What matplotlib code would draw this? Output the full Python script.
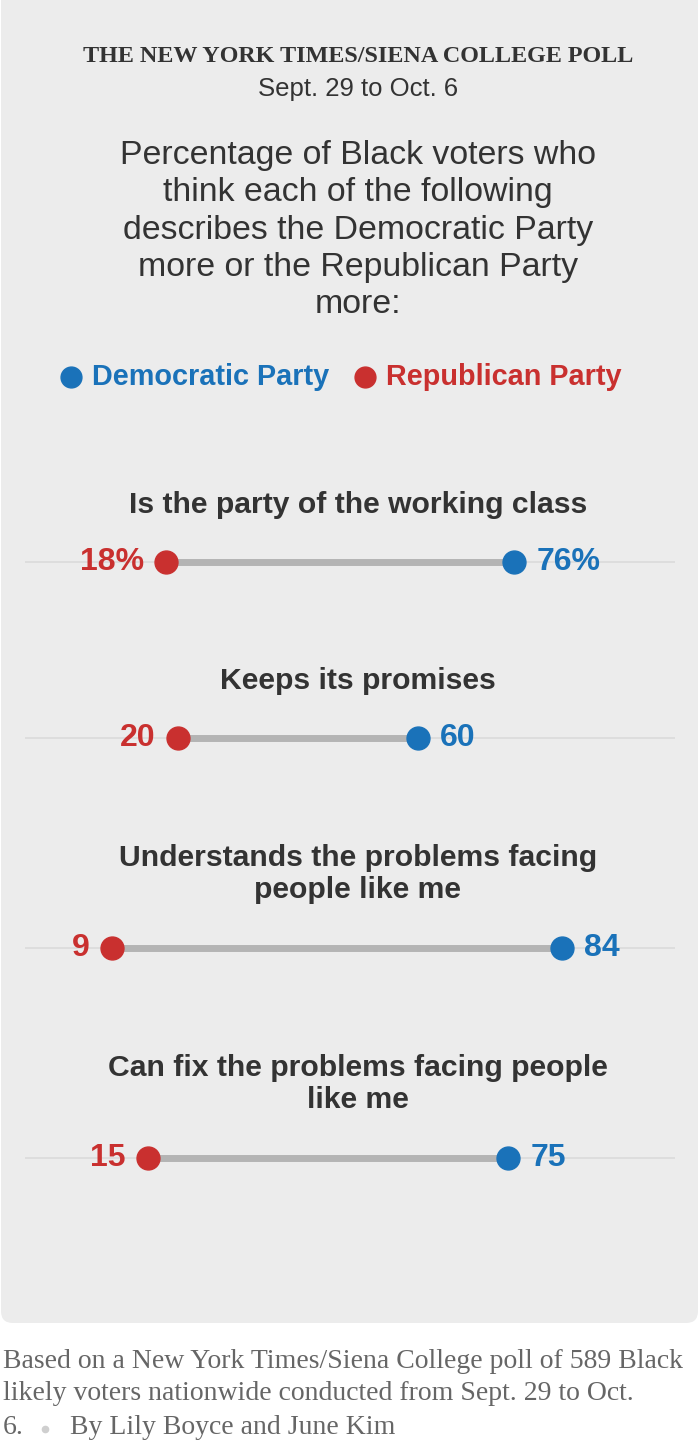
import matplotlib
matplotlib.use("Agg")
from matplotlib import pyplot as plt
from matplotlib.patches import FancyBboxPatch

questions = [
    "Is the party of the working class",
    "Keeps its promises",
    "Understands the problems facing\npeople like me",
    "Can fix the problems facing people\nlike me",
]
rep_values = [18, 20, 9, 15]
dem_values = [76, 60, 84, 75]
rep_labels = ["18%", "20", "9", "15"]
dem_labels = ["76%", "60", "84", "75"]

BLUE = "#1a72b9"
RED = "#c9302f"
DARK = "#333333"
SANS = "Liberation Sans"
SERIF = "Liberation Serif"

W, H = 699, 1453


def px(x):
    # pixel column -> percent scale (0% at 58px, 6px per point)
    return (x - 58) / 6


def main():
    fig = plt.figure(figsize=(W / 100, H / 100), dpi=100)
    fig.patch.set_facecolor("white")

    ax = fig.add_axes([0, 0, 1, 1])
    ax.set_xlim(px(0), px(W))
    ax.set_ylim(H, 0)
    ax.axis("off")
    ax.patch.set_alpha(0)

    # gray card
    card = FancyBboxPatch((1 / W, 1 - 1323 / H), 697 / W, 1350 / H,
                          boxstyle="round,pad=0,rounding_size=0.017",
                          transform=ax.transAxes, facecolor="#ececec",
                          edgecolor="none", mutation_aspect=W / H, zorder=0)
    ax.add_patch(card)

    ax.text(50, 56, "THE NEW YORK TIMES/SIENA COLLEGE POLL", ha="center", va="center",
            fontsize=17.4, fontweight="bold", family=SERIF, color=DARK)
    ax.text(50, 89, "Sept. 29 to Oct. 6", ha="center", va="center",
            fontsize=18.5, family=SANS, color=DARK)
    ax.text(50, 230, "Percentage of Black voters who\nthink each of the following\n"
            "describes the Democratic Party\nmore or the Republican Party\nmore:",
            ha="center", va="center", fontsize=24.4, family=SANS, color=DARK,
            linespacing=1.27)

    # legend
    ax.plot([px(71)], [377], "o", ms=15, color=BLUE, clip_on=False)
    ax.text(px(92), 377, "Democratic Party", ha="left", va="center", fontsize=20.8,
            fontweight="bold", family=SANS, color=BLUE)
    ax.plot([px(365)], [377], "o", ms=15, color=RED, clip_on=False)
    ax.text(px(386), 377, "Republican Party", ha="left", va="center", fontsize=20.8,
            fontweight="bold", family=SANS, color=RED)

    label_y = [505, 681, 874, 1084]
    line_y = [562, 738, 948, 1158]
    for q, ly, y, r, d, rl, dl in zip(questions, label_y, line_y, rep_values,
                                       dem_values, rep_labels, dem_labels):
        ax.text(50, ly, q, ha="center", va="center", fontsize=21.7, fontweight="bold",
                family=SANS, color=DARK, linespacing=1.14)
        ax.plot([px(25), px(675)], [y, y], color="#d9d9d9", lw=1.1,
                solid_capstyle="butt", zorder=1, clip_on=False)
        ax.plot([r, d], [y, y], color="#b4b4b4", lw=5, solid_capstyle="butt", zorder=2)
        ax.plot([r], [y], "o", ms=16.5, color=RED, zorder=3)
        ax.plot([d], [y], "o", ms=16.5, color=BLUE, zorder=3)
        ax.annotate(rl, (r, y), xytext=(-16, 0), textcoords="offset points", ha="right",
                    va="center", fontsize=23, fontweight="bold", family=SANS, color=RED)
        ax.annotate(dl, (d, y), xytext=(16, 0), textcoords="offset points", ha="left",
                    va="center", fontsize=23, fontweight="bold", family=SANS, color=BLUE)

    foot = dict(ha="left", va="center", fontsize=20, family=SERIF, color="#666666")
    ax.text(px(3), 1361, "Based on a New York Times/Siena College poll of 589 Black", **foot)
    ax.text(px(3), 1394, "likely voters nationwide conducted from Sept. 29 to Oct.", **foot)
    ax.text(px(3), 1427, "6.", **foot)
    ax.text(px(70), 1427, "By Lily Boyce and June Kim", **foot)
    ax.plot([px(45)], [1429], "o", ms=4.5, color="#cfcfcf", clip_on=False)

    fig.savefig("out.png", dpi=100, facecolor="white")


if __name__ == "__main__":
    main()
